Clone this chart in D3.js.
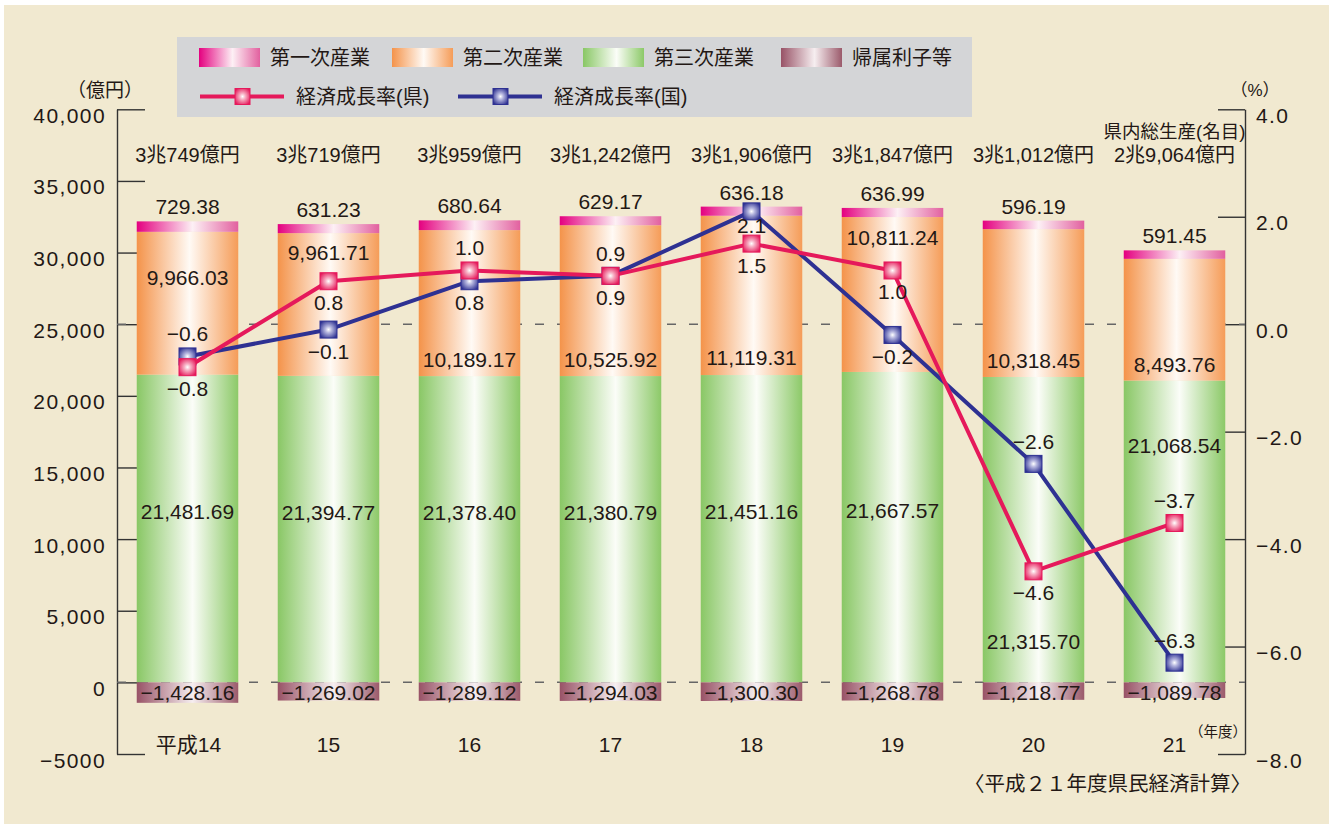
<!DOCTYPE html>
<html>
<head>
<meta charset="utf-8">
<script src="https://cdn.jsdelivr.net/npm/d3@7/dist/d3.min.js"></script>
<style>
body { margin: 0; background: #fff; }
svg text { font-family: "Liberation Sans", "Noto Sans CJK JP", sans-serif; fill: #231815; }
</style>
</head>
<body>
<svg id="chart" width="1329" height="824"></svg>
<script>
// ---- データ（平成21年度県民経済計算） ----
var years = ['平成14', '15', '16', '17', '18', '19', '20', '21'];
var primary = [729.38, 631.23, 680.64, 629.17, 636.18, 636.99, 596.19, 591.45];
var secondary = [9966.03, 9961.71, 10189.17, 10525.92, 11119.31, 10811.24, 10318.45, 8493.76];
var tertiary = [21481.69, 21394.77, 21378.40, 21380.79, 21451.16, 21667.57, 21315.70, 21068.54];
var imputed = [-1428.16, -1269.02, -1289.12, -1294.03, -1300.30, -1268.78, -1218.77, -1089.78];
var totals = ['3兆749億円', '3兆719億円', '3兆959億円', '3兆1,242億円', '3兆1,906億円', '3兆1,847億円', '3兆1,012億円', '2兆9,064億円'];
var growthPref = [-0.8, 0.8, 1.0, 0.9, 1.5, 1.0, -4.6, -3.7];
var growthNation = [-0.6, -0.1, 0.8, 0.9, 2.1, -0.2, -2.6, -6.3];

var leftTicks = [-5000, 0, 5000, 10000, 15000, 20000, 25000, 30000, 35000, 40000];
var leftTickLabels = ['−5000', '0', '5,000', '10,000', '15,000', '20,000', '25,000', '30,000', '35,000', '40,000'];
var rightTicks = [-8, -6, -4, -2, 0, 2, 4];
var rightTickLabels = ['−8.0', '−6.0', '−4.0', '−2.0', '0.0', '2.0', '4.0'];

var seriesNames = {primary: '第一次産業', secondary: '第二次産業', tertiary: '第三次産業', imputed: '帰属利子等'};

// ラベルの置き場所（棒の中での位置の割合、上下）
var secLabelPos = [0.37, 0.19, 0.94, 0.94, 0.94, 0.18, 0.94, 0.93];
var terLabelPos = [0.47, 0.47, 0.47, 0.47, 0.47, 0.47, 0.89, 0.24];
var prefSide = ['below', 'below', 'above', 'above', 'below', 'below', 'below', 'above'];
var nationSide = ['above', 'below', 'below', 'below', 'near', 'below', 'above', 'above'];

var fmt2 = d3.format(',.2f');
function numText(v) { return (v < 0 ? '−' : '') + fmt2(Math.abs(v)); }
function rateText(v) { return (v < 0 ? '−' : '') + Math.abs(v).toFixed(1); }

var table = years.map(function (y, i) {
    return {year: y, primary: primary[i], secondary: secondary[i], tertiary: tertiary[i], imputed: imputed[i]};
});

var svg = d3.select('#chart');

// 背景
svg.append('rect').attr('x', 4).attr('y', 5).attr('width', 1325).attr('height', 819).attr('fill', '#f1e9d0');

/*************************** グラデーション ***************************/
var defs = svg.append('defs');
function barGrad(id, left, mid, right, midAt) {
    var g = defs.append('linearGradient').attr('id', id).attr('x1', 0).attr('x2', 1).attr('y1', 0).attr('y2', 0);
    g.append('stop').attr('offset', 0).attr('stop-color', left);
    g.append('stop').attr('offset', midAt).attr('stop-color', mid);
    g.append('stop').attr('offset', 1).attr('stop-color', right);
}
barGrad('g-primary', '#e4007f', '#fdf0f5', '#e2609f', 0.55);
barGrad('g-secondary', '#f4934a', '#fffaf5', '#f59c58', 0.52);
barGrad('g-tertiary', '#89c765', '#fbfdf8', '#8cc968', 0.55);
barGrad('g-imputed', '#985266', '#f6eef0', '#9b5a6b', 0.55);

function markGrad(id, color, midColor) {
    var g = defs.append('radialGradient').attr('id', id).attr('cx', 0.5).attr('cy', 0.5).attr('r', 0.6);
    g.append('stop').attr('offset', 0).attr('stop-color', '#ffffff');
    g.append('stop').attr('offset', 0.3).attr('stop-color', midColor);
    g.append('stop').attr('offset', 1).attr('stop-color', color);
}
var prefColor = '#e5195b', nationColor = '#2e3192';
markGrad('m-pref', prefColor, '#f7b3c6');
markGrad('m-nation', nationColor, '#b8b9e0');

/*************************** スケール ***************************/
var x = d3.scaleBand().domain(years).range([117, 1245]).paddingInner(0.28).paddingOuter(0.14);
var yL = d3.scaleLinear().domain([-5000, 40000]).range([754, 109.3]);
var yR = d3.scaleLinear().domain([-8, 4]).range([754, 109.3]);
function cx(d) { return x(d) + x.bandwidth() / 2; }

/*************************** 凡例 ***************************/
var legend = svg.append('g');
legend.append('rect').attr('x', 177).attr('y', 37).attr('width', 795).attr('height', 80).attr('fill', '#d4d5d7');
var legendX = [199, 392, 583, 781];
['primary', 'secondary', 'tertiary', 'imputed'].forEach(function (k, i) {
    legend.append('rect').attr('x', legendX[i]).attr('y', 48).attr('width', 61).attr('height', 19)
        .attr('fill', 'url(#g-' + k + ')');
    legend.append('text').attr('x', legendX[i] + 71).attr('y', 64.5).attr('font-size', 20).text(seriesNames[k]);
});
[[200, prefColor, 'm-pref', '経済成長率(県)'], [458, nationColor, 'm-nation', '経済成長率(国)']].forEach(function (s) {
    legend.append('line').attr('x1', s[0]).attr('x2', s[0] + 84).attr('y1', 96.5).attr('y2', 96.5)
        .attr('stroke', s[1]).attr('stroke-width', 4);
    legend.append('rect').attr('x', s[0] + 35).attr('y', 88.5).attr('width', 15).attr('height', 16)
        .attr('fill', 'url(#' + s[2] + ')').attr('stroke', s[1]).attr('stroke-width', 1);
    legend.append('text').attr('x', s[0] + 96).attr('y', 104).attr('font-size', 20).text(s[3]);
});

/*************************** 軸 ***************************/
var axisL = svg.append('g').attr('transform', 'translate(117,0)')
    .call(d3.axisLeft(yL).tickValues(leftTicks).tickSizeInner(-28).tickSizeOuter(0).tickPadding(11)
        .tickFormat(function (d, i) { return leftTickLabels[i]; }));
var axisR = svg.append('g').attr('transform', 'translate(1245,0)')
    .call(d3.axisRight(yR).tickValues(rightTicks).tickSizeInner(-27).tickSizeOuter(0).tickPadding(11)
        .tickFormat(function (d, i) { return rightTickLabels[i]; }));
[axisL, axisR].forEach(function (a) {
    a.attr('font-family', null).attr('font-size', null);
    a.selectAll('path, line').attr('stroke', '#333').attr('stroke-width', 1.4);
    a.selectAll('text').attr('font-size', 21).attr('letter-spacing', 1.4).attr('fill', '#231815').attr('dy', '0.62em');
});

svg.append('text').attr('x', 105).attr('y', 97).attr('text-anchor', 'middle').attr('font-size', 19).text('（億円）');
svg.append('text').attr('x', 1255).attr('y', 96).attr('text-anchor', 'middle').attr('font-size', 17).text('（%）');

// ゼロの破線
svg.append('line').attr('x1', 117).attr('x2', 1245).attr('y1', yL(0)).attr('y2', yL(0))
    .attr('stroke', '#666').attr('stroke-width', 1.5).attr('stroke-dasharray', '9,13');
svg.append('line').attr('x1', 117).attr('x2', 1245).attr('y1', yR(0)).attr('y2', yR(0))
    .attr('stroke', '#666').attr('stroke-width', 1.5).attr('stroke-dasharray', '9,13');

/*************************** 積み上げ棒 ***************************/
var stack = d3.stack().keys(['tertiary', 'secondary', 'primary', 'imputed']).offset(d3.stackOffsetDiverging);
var layers = stack(table);

svg.append('g').selectAll('g').data(layers).enter().append('g')
    .attr('fill', function (d) { return 'url(#g-' + d.key + ')'; })
    .selectAll('rect').data(function (d) { return d; }).enter().append('rect')
    .attr('x', function (d) { return x(d.data.year); })
    .attr('width', x.bandwidth())
    .attr('y', function (d) { return yL(Math.max(d[0], d[1])); })
    .attr('height', function (d) { return Math.abs(yL(d[0]) - yL(d[1])); });

var byKey = {};
layers.forEach(function (l) { byKey[l.key] = l; });

var labels = svg.append('g').attr('text-anchor', 'middle').attr('font-size', 21);
years.forEach(function (yr, i) {
    var c = cx(yr);
    var p = byKey.primary[i], s = byKey.secondary[i], t = byKey.tertiary[i], m = byKey.imputed[i];
    labels.append('text').attr('x', c).attr('y', yL(p[1]) - 7).text(numText(primary[i]));
    var sTop = yL(s[1]), sBot = yL(s[0]);
    labels.append('text').attr('x', c).attr('y', sTop + secLabelPos[i] * (sBot - sTop)).text(numText(secondary[i]));
    var tTop = yL(t[1]), tBot = yL(t[0]);
    labels.append('text').attr('x', c).attr('y', tTop + terLabelPos[i] * (tBot - tTop)).text(numText(tertiary[i]));
    labels.append('text').attr('x', c).attr('y', yL(Math.max(m[0], m[1])) + 18).text(numText(imputed[i]));
    // 県内総生産
    labels.append('text').attr('x', c).attr('y', 162).attr('font-size', 20).text(totals[i]);
    // 年度
    labels.append('text').attr('x', c + (i === 0 ? 1 : 0)).attr('y', 752).text(years[i]);
});
labels.append('text').attr('x', cx(years[7])).attr('y', 138).attr('font-size', 18.5).text('県内総生産(名目)');
svg.append('text').attr('x', 1218).attr('y', 737).attr('text-anchor', 'middle').attr('font-size', 14.5).text('（年度）');
svg.append('text').attr('x', 1251).attr('y', 791).attr('text-anchor', 'end').attr('font-size', 20.5).text('〈平成２１年度県民経済計算〉');

/*************************** 折れ線 ***************************/
var line = d3.line().x(function (d, i) { return cx(years[i]); }).y(function (d) { return yR(d); });
var lineSets = [
    {vals: growthNation, color: nationColor, grad: 'm-nation', side: nationSide},
    {vals: growthPref, color: prefColor, grad: 'm-pref', side: prefSide}
];
lineSets.forEach(function (ls) {
    svg.append('path').datum(ls.vals).attr('d', line).attr('fill', 'none')
        .attr('stroke', ls.color).attr('stroke-width', 4).attr('stroke-linejoin', 'round');
    svg.append('g').selectAll('rect').data(ls.vals).enter().append('rect')
        .attr('x', function (d, i) { return cx(years[i]) - 8.5; })
        .attr('y', function (d) { return yR(d) - 8.5; })
        .attr('width', 17).attr('height', 17)
        .attr('fill', 'url(#' + ls.grad + ')').attr('stroke', ls.color).attr('stroke-width', 1);
});
var offsets = {above: -15, below: 29, near: 22};
lineSets.forEach(function (ls) {
    svg.append('g').attr('text-anchor', 'middle').attr('font-size', 21)
        .selectAll('text').data(ls.vals).enter().append('text')
        .attr('x', function (d, i) { return cx(years[i]); })
        .attr('y', function (d, i) { return yR(d) + offsets[ls.side[i]]; })
        .text(rateText);
});
</script>
</body>
</html>
